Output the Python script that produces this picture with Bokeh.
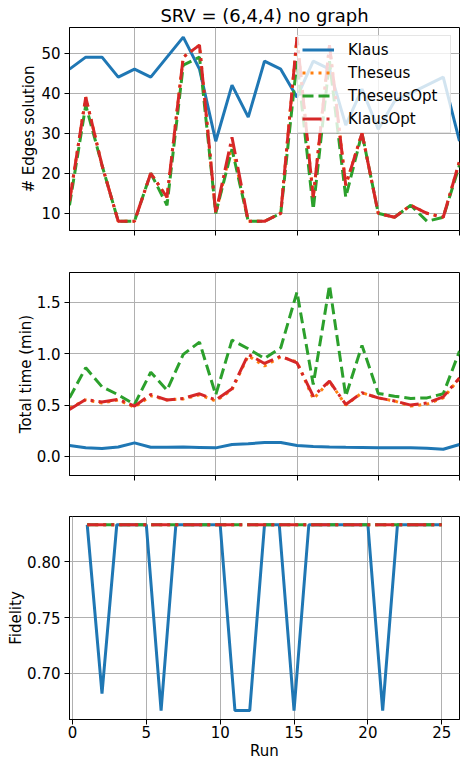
from bokeh.plotting import figure
from bokeh.layouts import column
from bokeh.models import Range1d, FixedTicker, NumeralTickFormatter, CustomLabelingPolicy
from bokeh.embed import file_html
from bokeh.resources import INLINE

runs = list(range(1, 26))

series_names = ["Klaus", "Theseus", "TheseusOpt", "KlausOpt"]

edges_klaus = [46, 49, 49, 44, 46, 44, 49, 54, 46, 28, 42, 34, 48, 46, 39, 48, 46, 32, 41, 31, 38, 40, 42, 44, 28]
edges_theseus = [13, 39, 22, 8, 8, 20, 14, 49, 52, 10, 27, 8, 8, 10, 54, 14, 52, 17, 30, 10, 9, 12, 10, 9, 23]
edges_theseusopt = [12, 37, 22, 8, 8, 20, 12, 47, 49, 10, 26, 8, 8, 10, 48, 11, 48, 14, 30, 10, 9, 12, 8, 9, 22]
edges_klausopt = [13, 39, 22, 8, 8, 20, 14, 49, 52, 10, 29, 8, 8, 10, 54, 14, 52, 17, 30, 10, 9, 12, 10, 9, 23]

time_klaus = [0.107, 0.084, 0.077, 0.093, 0.132, 0.090, 0.090, 0.092, 0.088, 0.084, 0.117, 0.123, 0.136,
              0.136, 0.107, 0.097, 0.093, 0.090, 0.088, 0.084, 0.086, 0.084, 0.080, 0.070, 0.117]
time_theseus = [0.47, 0.55, 0.52, 0.55, 0.48, 0.59, 0.55, 0.56, 0.60, 0.54, 0.65, 0.98, 0.88,
                0.97, 0.92, 0.56, 0.73, 0.50, 0.62, 0.57, 0.54, 0.49, 0.51, 0.57, 0.76]
time_theseusopt = [0.57, 0.863, 0.678, 0.60, 0.506, 0.82, 0.645, 0.993, 1.113, 0.60, 1.132, 1.048, 0.954,
                   1.058, 1.60, 0.70, 1.665, 0.587, 1.08, 0.613, 0.587, 0.565, 0.57, 0.61, 1.025]
time_klausopt = [0.457, 0.555, 0.53, 0.555, 0.49, 0.603, 0.55, 0.565, 0.61, 0.55, 0.66, 0.993, 0.905,
                 0.977, 0.91, 0.587, 0.733, 0.506, 0.62, 0.57, 0.54, 0.50, 0.52, 0.58, 0.765]

fid_klaus = [0.8333, 0.6818, 0.8333, 0.8333, 0.8333, 0.6667, 0.8333, 0.8333, 0.8333, 0.8333, 0.6667, 0.6667, 0.8333,
             0.8333, 0.6667, 0.8333, 0.8333, 0.8333, 0.8333, 0.8333, 0.6667, 0.8333, 0.8333, 0.8333, 0.8333]
fid_theseus = [0.8333] * 25
fid_theseusopt = [0.8333] * 25
fid_klausopt = [0.8333] * 25

top_xticks = [5, 10, 15, 20, 25]
bottom_xticks = [0, 5, 10, 15, 20, 25]
edges_yticks = [10, 20, 30, 40, 50]
time_yticks = [0.0, 0.5, 1.0, 1.5]
fid_yticks = [0.70, 0.75, 0.80]

colors = ["#1f77b4", "#ff7f0e", "#2ca02c", "#d62728"]
dashes = ["solid", "3 5", "11 5", "19 5 3 5"]

FONT = "DejaVu Sans"


def style(p, ylabel, ystand):
    p.outline_line_color = "black"
    p.outline_line_width = 1
    p.grid.grid_line_color = "#b0b0b0"
    p.grid.grid_line_width = 1
    p.background_fill_color = "white"
    p.border_fill_color = "white"
    for ax in p.axis:
        ax.axis_line_color = "black"
        ax.major_tick_in = 0
        ax.major_tick_out = 5
        ax.major_tick_line_color = "black"
        ax.minor_tick_line_color = None
        ax.major_label_text_font_size = "15px"
        ax.major_label_text_color = "black"
        ax.major_label_text_font = FONT
        ax.axis_label_text_font_size = "15px"
        ax.axis_label_text_font_style = "normal"
        ax.axis_label_text_color = "black"
        ax.axis_label_text_font = FONT
        ax.major_label_standoff = 4
    p.yaxis.axis_label = ylabel
    p.yaxis.axis_label_standoff = ystand


def make(ys, xr, yr, xticks, yticks, ylabel, ystand, top, bottom, legend=False, title=None):
    kw = dict(frame_width=390, frame_height=203, output_backend="svg", toolbar_location=None,
              x_range=Range1d(*xr), y_range=Range1d(*yr),
              min_border_left=69, min_border_right=3, min_border_top=top, min_border_bottom=bottom)
    if title:
        kw["title"] = title
    p = figure(**kw)
    for y, c, d, n in zip(ys, colors, dashes, series_names):
        if legend:
            p.line(runs, y, line_color=c, line_width=3, line_dash=d, legend_label=n)
        else:
            p.line(runs, y, line_color=c, line_width=3, line_dash=d)
    p.xaxis.ticker = FixedTicker(ticks=xticks)
    p.yaxis.ticker = FixedTicker(ticks=yticks)
    style(p, ylabel, ystand)
    return p


def hide_xlabels(p):
    p.xaxis.major_label_policy = CustomLabelingPolicy(
        code="for (const i of Array.from(indices)) { indices.unset(i) }\nreturn indices")
    p.xaxis.major_label_standoff = 0


p1 = make([edges_klaus, edges_theseus, edges_theseusopt, edges_klausopt], (1, 25), (5.7, 56.4),
          top_xticks, edges_yticks, "# Edges solution", 0, 27, 21, legend=True, title="SRV = (6,4,4) no graph")
hide_xlabels(p1)
p1.title.text_font_size = "18px"
p1.title.text_font = FONT
p1.title.text_font_style = "normal"
p1.title.text_color = "black"
p1.title.align = "center"
p1.title.standoff = 3
lg = p1.legend[0]
lg.location = "top_right"
lg.margin = 8
lg.padding = 4
lg.spacing = 4
lg.label_height = 19
lg.glyph_height = 19
lg.glyph_width = 32
lg.label_standoff = 14
lg.label_width = 98
lg.label_text_font_size = "15px"
lg.label_text_font = FONT
lg.label_text_color = "black"
lg.background_fill_alpha = 0.8
lg.border_line_color = "#cccccc"
lg.border_line_width = 1

p2 = make([time_klaus, time_theseus, time_theseusopt, time_klausopt], (1, 25), (-0.185, 1.79),
          top_xticks, time_yticks, "Total time (min)", -1, 21, 20)
hide_xlabels(p2)
p2.yaxis.formatter = NumeralTickFormatter(format="0.0")

p3 = make([fid_klaus, fid_theseus, fid_theseusopt, fid_klausopt], (-0.2, 26.2), (0.6587, 0.8407),
          bottom_xticks, fid_yticks, "Fidelity", -1, 21, 40)
p3.yaxis.formatter = NumeralTickFormatter(format="0.00")
p3.xaxis.axis_label = "Run"
p3.xaxis.major_label_standoff = 1
p3.xaxis.axis_label_standoff = 1

layout = column(p1, p2, p3, spacing=0)
open("out.html", "w").write(file_html(layout, INLINE))
